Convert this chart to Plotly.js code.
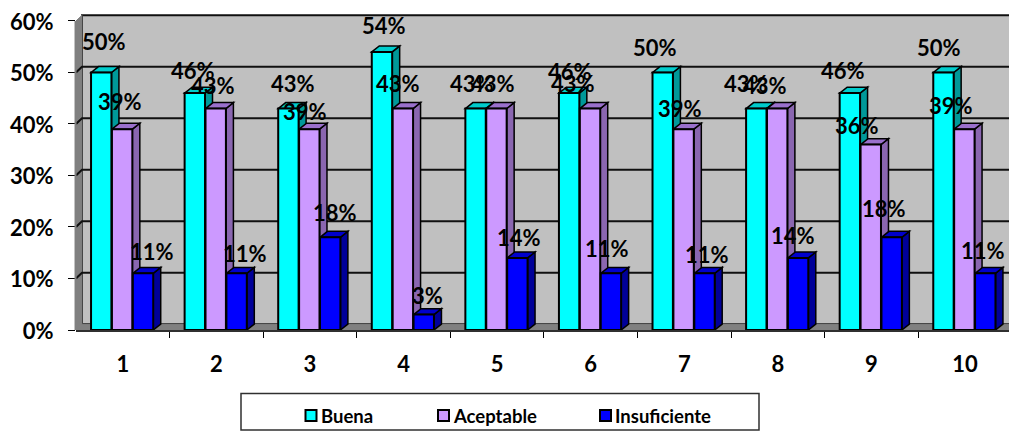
<!DOCTYPE html>
<html>
<head>
<meta charset="utf-8">
<script src="https://cdn.plot.ly/plotly-3.0.1.min.js"></script>
<style>html,body{margin:0;padding:0;background:#fff}#chart{width:1009px;height:431px}</style>
</head>
<body>
<div id="chart"></div>
<script>
// Survey results per question, in percent
const categories = [1, 2, 3, 4, 5, 6, 7, 8, 9, 10];
const seriesNames = ['Buena', 'Aceptable', 'Insuficiente'];
const buena = [50, 46, 43, 54, 43, 46, 50, 43, 46, 50];
const aceptable = [39, 43, 39, 43, 43, 43, 39, 43, 36, 39];
const insuficiente = [11, 11, 18, 3, 14, 11, 11, 14, 18, 11];
const yTicks = [0, 10, 20, 30, 40, 50, 60];

// Data label nudges in pixels, relative to the top centre of each bar
const nudgeX = [
  [3, -2, 5, 2, -4, 1, -8, -10, -7, -4],
  [-2, -3, -4, -5, -3, -17, -4, -12, -14, -13],
  [9, 8, 5, 4, 2, -4, 2, -5, -8, -2]
];
const nudgeY = [
  [-31, -23, -25, -26, -25, -22, -25, -25, -23, -25],
  [-28, -23, -18, -25, -25, -25, -21, -23, -19, -24],
  [-22, -20, -25, -19, -20, -25, -19, -22, -29, -23]
];

const W = 1009, H = 431, L = 76, R = 0, T = 13, B = 101;
const xMin = 0.5, xMax = 10.47, yMax = 61.55;
const FONT = 'Lato, Carlito, sans-serif';

// Depth of the pseudo-3D box and bars, expressed in axis units
const wallDX = 0.064, wallDY = 1.1;
const barDX = 0.08, barDY = 1.15;
const pitch = 0.2233, barW = 0.218, groupShift = -0.007;

const seriesValues = [buena, aceptable, insuficiente];
const fronts = ['#00FFFF', '#CC99FF', '#0000FF'];
const tops = ['#00CCCC', '#9A70CC', '#0000CC'];
const sides = ['#009999', '#8A66B0', '#000099'];

const poly = pts => 'M' + pts.map(p => p[0] + ',' + p[1]).join('L') + 'Z';
const shapes = [];
const onAxes = (path, fill, color, width) => shapes.push({
  type: 'path', xref: 'x', yref: 'y', layer: 'below', path: path,
  fillcolor: fill, line: {color: color, width: width}
});

// Box walls and floor
onAxes(poly([[xMin + wallDX, wallDY], [xMin + wallDX, 60 + wallDY], [xMax + 1, 60 + wallDY], [xMax + 1, wallDY]]), '#C0C0C0', '#101010', 2);
onAxes(poly([[xMin, 0], [xMin, 60], [xMin + wallDX, 60 + wallDY], [xMin + wallDX, wallDY]]), '#808080', '#808080', 1);
onAxes(poly([[xMin, 0], [xMin + wallDX, wallDY], [xMax + 1, wallDY], [xMax + 1, 0]]), '#808080', '#808080', 1);

// Gridlines folded across the side wall and the back wall
yTicks.slice(1, -1).forEach(v => {
  onAxes('M' + xMin + ',' + v + 'L' + (xMin + wallDX) + ',' + (v + wallDY) + 'L' + (xMax + 1) + ',' + (v + wallDY), 'rgba(0,0,0,0)', '#101010', 2);
});

// Side and top faces of the bars; the front faces are the bar traces on top
seriesValues.forEach((vals, s) => {
  vals.forEach((v, i) => {
    const c = categories[i] + groupShift + (s - 1) * pitch;
    const x0 = c - barW / 2, x1 = c + barW / 2;
    onAxes(poly([[x1, 0], [x1 + barDX, barDY], [x1 + barDX, v + barDY], [x1, v]]), sides[s], '#000000', 1.5);
    onAxes(poly([[x0, v], [x0 + barDX, v + barDY], [x1 + barDX, v + barDY], [x1, v]]), tops[s], '#000000', 1.5);
  });
});

// Value axis line, running only up to the top tick
shapes.push({type: 'line', xref: 'paper', yref: 'y', x0: -0.0005, x1: -0.0005, y0: -1.5, y1: 60, line: {color: '#808080', width: 2}, layer: 'above'});

// Legend frame and swatches
const px = x => (x - L) / (W - L - R);
const py = y => (H - B - y) / (H - T - B);
shapes.push({type: 'rect', xref: 'paper', yref: 'paper', x0: px(241), x1: px(759), y0: py(393.5), y1: py(430), fillcolor: '#FFFFFF', line: {color: '#303030', width: 1.5}});
const swatchX = [304.5, 437, 599], textX = [319, 450.5, 613];
seriesNames.forEach((n, s) => shapes.push({type: 'rect', xref: 'paper', yref: 'paper',
  x0: px(swatchX[s] + 1), x1: px(swatchX[s] + 12), y0: py(410), y1: py(421), fillcolor: fronts[s], line: {color: '#000000', width: 2}}));

const annotations = [];
seriesValues.forEach((vals, s) => vals.forEach((v, i) => annotations.push({
  x: categories[i] + groupShift + (s - 1) * pitch, y: v, xref: 'x', yref: 'y',
  text: v + '%', showarrow: false, xanchor: 'center', yanchor: 'middle',
  xshift: nudgeX[s][i], yshift: -nudgeY[s][i],
  font: {family: FONT, size: 22, color: '#000000', weight: 700}
})));
seriesNames.forEach((n, s) => annotations.push({
  x: px(textX[s]), y: py(416), xref: 'paper', yref: 'paper', text: n,
  showarrow: false, xanchor: 'left', yanchor: 'middle',
  font: {family: FONT, size: 18.5, color: '#000000', weight: 700}
}));

const traces = seriesValues.map((vals, s) => ({
  type: 'bar', name: seriesNames[s], x: categories, y: vals,
  width: barW, offset: groupShift + (s - 1) * pitch - barW / 2,
  marker: {color: fronts[s], line: {color: '#000000', width: 2}},
  hoverinfo: 'x+y'
}));

const layout = {
  width: W, height: H,
  margin: {l: L, r: R, t: T, b: B, pad: 0},
  paper_bgcolor: '#FFFFFF', plot_bgcolor: 'rgba(0,0,0,0)',
  barmode: 'overlay', showlegend: false,
  font: {family: FONT, color: '#000000'},
  xaxis: {
    type: 'linear', range: [xMin, xMax], tickmode: 'array', tickvals: categories,
    ticks: '', showgrid: false, zeroline: false,
    showline: true, linecolor: '#303030', linewidth: 2,
    ticklabelstandoff: 14,
    tickfont: {family: FONT, size: 22, color: '#000000', weight: 700},
    minor: {tickmode: 'array', tickvals: categories.map(c => c + 0.5), ticks: 'outside', ticklen: 6, tickcolor: '#000000', tickwidth: 1, showgrid: false}
  },
  yaxis: {
    range: [0, yMax], tickmode: 'array', tickvals: yTicks, ticktext: yTicks.map(v => v + '%'),
    ticks: 'outside', ticklen: 7, tickcolor: '#000000', tickwidth: 1,
    showgrid: false, zeroline: false, showline: false,
    ticklabelstandoff: 10, ticklabelshift: 1,
    tickfont: {family: FONT, size: 22, color: '#000000', weight: 700}
  },
  shapes: shapes,
  annotations: annotations
};

Plotly.newPlot('chart', traces, layout, {displayModeBar: false, staticPlot: true});
</script>
</body>
</html>
